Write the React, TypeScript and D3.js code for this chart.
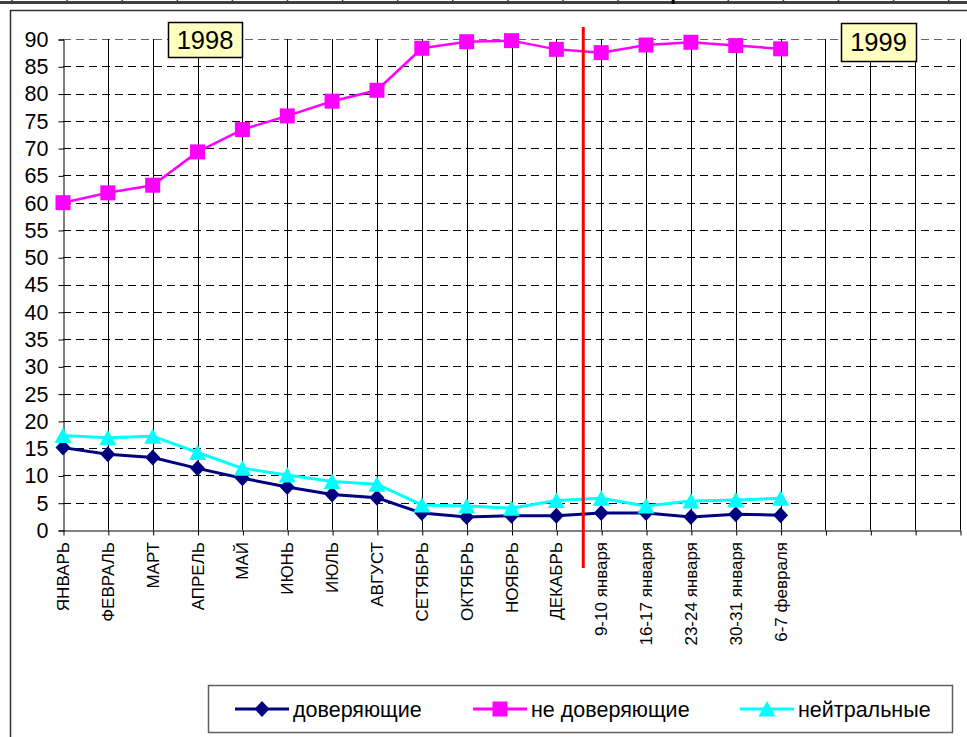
import { useEffect, useRef } from "react";
import * as d3 from "d3";

// categories on the x axis (17 filled, 4 empty slots follow)
const categories = [
  "ЯНВАРЬ", "ФЕВРАЛЬ", "МАРТ", "АПРЕЛЬ", "МАЙ", "ИЮНЬ", "ИЮЛЬ", "АВГУСТ",
  "СЕТЯБРЬ", "ОКТЯБРЬ", "НОЯБРЬ", "ДЕКАБРЬ",
  "9-10 января", "16-17 января", "23-24 января", "30-31 января", "6-7 февраля",
];
const slotCount = 20; // axis spans slot 0..20

const trusting = [15.1, 13.9, 13.3, 11.3, 9.5, 7.9, 6.5, 5.9, 3.1, 2.4, 2.6, 2.6, 3.1, 3.1, 2.4, 2.9, 2.7];
const distrusting = [60.0, 61.8, 63.2, 69.3, 73.4, 75.9, 78.6, 80.6, 88.3, 89.5, 89.7, 88.1, 87.5, 88.9, 89.4, 88.8, 88.2];
const neutral = [17.3, 16.9, 17.2, 14.2, 11.3, 10.1, 8.9, 8.4, 4.6, 4.4, 4.0, 5.4, 5.8, 4.4, 5.3, 5.5, 5.8];

const yTicks = [0, 5, 10, 15, 20, 25, 30, 35, 40, 45, 50, 55, 60, 65, 70, 75, 80, 85, 90];
const yearDivider = 11.6; // red line between ДЕКАБРЬ and 9-10 января

const seriesNames = ["доверяющие", "не доверяющие", "нейтральные"];
const seriesColors = ["#000080", "#ff00ff", "#00ffff"];
const seriesMarkers = ["diamond", "square", "triangle"];

const FONT = "'Liberation Sans', Arial, sans-serif";

const markerPath = (kind: string, cx: number, cy: number): string => {
  if (kind === "diamond") {
    return `M${cx},${cy - 8}L${cx + 7.5},${cy}L${cx},${cy + 8}L${cx - 7.5},${cy}Z`;
  }
  if (kind === "square") {
    return `M${cx - 7.5},${cy - 7.5}h15v15h-15Z`;
  }
  return `M${cx},${cy - 8}L${cx + 8.5},${cy + 7.5}L${cx - 8.5},${cy + 7.5}Z`;
};

export default function App() {
  const ref = useRef<SVGSVGElement | null>(null);

  useEffect(() => {
    const svg = d3.select(ref.current);
    svg.selectAll("*").remove();

    const plot = { left: 63, right: 960, top: 39, bottom: 530 };

    const x = d3.scaleLinear().domain([0, slotCount]).range([plot.left, plot.right]);
    const y = d3.scaleLinear().domain([0, 90]).range([plot.bottom, plot.top]);

    // ruler-like strip at the very top
    svg.append("rect").attr("x", 0).attr("y", 1).attr("width", 967).attr("height", 3).attr("fill", "#404040");
    d3.range(0, 18).forEach((i) => {
      const tx = 12 + i * 55.1;
      svg
        .append("line")
        .attr("x1", tx).attr("x2", tx)
        .attr("y1", 0).attr("y2", 4)
        .attr("stroke", i === 12 ? "#000" : "#404040")
        .attr("stroke-width", i === 12 ? 3 : 1.5);
    });

    // chart area border
    svg
      .append("rect")
      .attr("x", 10.5).attr("y", 10.5)
      .attr("width", 990).attr("height", 800)
      .attr("fill", "white")
      .attr("stroke", "#303030")
      .attr("stroke-width", 1.5);

    // horizontal dashed grid
    svg
      .append("g")
      .selectAll("line")
      .data(yTicks.filter((t) => t > 0))
      .enter()
      .append("line")
      .attr("x1", plot.left).attr("x2", plot.right)
      .attr("y1", (d) => Math.round(y(d)) + 0.5)
      .attr("y2", (d) => Math.round(y(d)) + 0.5)
      .attr("stroke", (d) => (d === 90 ? "#666" : "#000"))
      .attr("stroke-dasharray", "8,5");

    // vertical solid grid
    svg
      .append("g")
      .selectAll("line")
      .data(d3.range(1, slotCount + 1))
      .enter()
      .append("line")
      .attr("x1", (d) => Math.round(x(d)) + 0.5)
      .attr("x2", (d) => Math.round(x(d)) + 0.5)
      .attr("y1", plot.top).attr("y2", plot.bottom)
      .attr("stroke", "#000");

    // axes
    const yAxis = d3.axisLeft(y).tickValues(yTicks).tickSize(5).tickPadding(10);
    const yG = svg
      .append("g")
      .attr("transform", `translate(${plot.left + 0.5},0.5)`)
      .call(yAxis);
    yG.select(".domain").attr("stroke", "#000");
    yG.selectAll("text")
      .attr("font-family", FONT)
      .attr("font-size", 21.5)
      .attr("fill", "#000");

    const xAxis = d3
      .axisBottom(x)
      .tickValues(d3.range(0, slotCount + 1))
      .tickSize(5)
      .tickSizeOuter(0)
      .tickFormat(() => "");
    svg
      .append("g")
      .attr("transform", `translate(0.5,${plot.bottom + 0.5})`)
      .call(xAxis)
      .select(".domain")
      .attr("stroke", "#000");

    // category labels, rotated
    svg
      .append("g")
      .selectAll("text")
      .data(categories)
      .enter()
      .append("text")
      .attr("transform", (_d, i) => `translate(${x(i) + 6},${plot.bottom + 12}) rotate(-90)`)
      .attr("text-anchor", "end")
      .attr("font-family", FONT)
      .attr("font-size", 17)
      .attr("fill", "#000")
      .text((d) => d);

    // series
    const allSeries = [trusting, distrusting, neutral];
    const line = d3
      .line<number>()
      .x((_d, i) => x(i))
      .y((d) => y(d));

    allSeries.forEach((values, s) => {
      svg
        .append("path")
        .datum(values)
        .attr("d", line)
        .attr("fill", "none")
        .attr("stroke", seriesColors[s])
        .attr("stroke-width", s === 1 ? 2.5 : 3);
    });

    // red divider line
    svg
      .append("line")
      .attr("x1", x(yearDivider)).attr("x2", x(yearDivider))
      .attr("y1", 27).attr("y2", 568)
      .attr("stroke", "#ff0000")
      .attr("stroke-width", 3);

    allSeries.forEach((values, s) => {
      svg
        .append("g")
        .selectAll("path")
        .data(values)
        .enter()
        .append("path")
        .attr("d", (d, i) => markerPath(seriesMarkers[s], x(i), y(d)))
        .attr("fill", seriesColors[s]);
    });

    // year labels
    const years = [
      { text: "1998", x: 168, y: 22, w: 74, h: 35 },
      { text: "1999", x: 841, y: 23, w: 75, h: 38 },
    ];
    years.forEach((yr) => {
      svg
        .append("rect")
        .attr("x", yr.x + 0.5).attr("y", yr.y + 0.5)
        .attr("width", yr.w).attr("height", yr.h)
        .attr("fill", "#ffffc0")
        .attr("stroke", "#000")
        .attr("stroke-width", 1.5);
      svg
        .append("text")
        .attr("x", yr.x + yr.w / 2)
        .attr("y", yr.y + yr.h / 2 + 9)
        .attr("text-anchor", "middle")
        .attr("font-family", FONT)
        .attr("font-size", 25.5)
        .attr("fill", "#000")
        .text(yr.text);
    });

    // legend
    const legend = svg.append("g");
    legend
      .append("rect")
      .attr("x", 208.5).attr("y", 685.5)
      .attr("width", 744).attr("height", 47)
      .attr("fill", "white")
      .attr("stroke", "#606060")
      .attr("stroke-width", 1.5);
    const legendX = [235, 473, 740];
    seriesNames.forEach((name, s) => {
      const lx = legendX[s];
      const ly = 709;
      legend
        .append("line")
        .attr("x1", lx).attr("x2", lx + 54)
        .attr("y1", ly).attr("y2", ly)
        .attr("stroke", seriesColors[s])
        .attr("stroke-width", 3);
      legend
        .append("path")
        .attr("d", markerPath(seriesMarkers[s], lx + 27, ly))
        .attr("fill", seriesColors[s]);
      legend
        .append("text")
        .attr("x", lx + 58)
        .attr("y", ly + 7.5)
        .attr("font-family", FONT)
        .attr("font-size", 21.5)
        .attr("fill", "#000")
        .text(name);
    });
  }, []);

  return (
    <svg
      ref={ref}
      width={967}
      height={737}
      style={{ position: "absolute", left: 0, top: 0, background: "white" }}
    />
  );
}
